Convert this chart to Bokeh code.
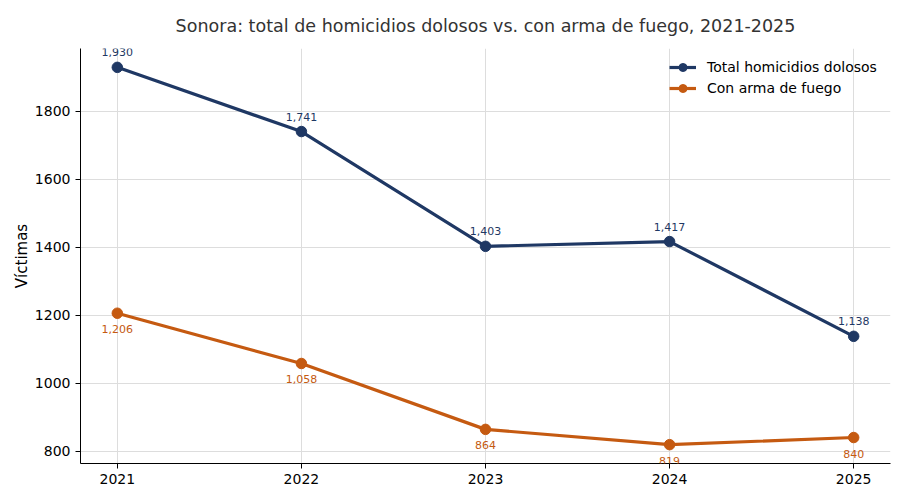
from bokeh.plotting import figure
from bokeh.models import ColumnDataSource, Range1d, FixedTicker, Legend, LegendItem, LabelSet
from bokeh.core.properties import value
from bokeh.embed import file_html
from bokeh.resources import INLINE

years = [2021, 2022, 2023, 2024, 2025]
total = [1930, 1741, 1403, 1417, 1138]
arma = [1206, 1058, 864, 819, 840]
total_labels = ["1,930", "1,741", "1,403", "1,417", "1,138"]
arma_labels = ["1,206", "1,058", "864", "819", "840"]
y_ticks = [800, 1000, 1200, 1400, 1600, 1800]

NAVY = "#1f3864"
ORANGE = "#c55a11"
FONT = "DejaVu Sans"

p = figure(width=898, height=495, output_backend="svg", toolbar_location=None,
           x_range=Range1d(2020.8, 2025.2), y_range=Range1d(763.5, 1985.5),
           min_border_left=80, min_border_right=8, min_border_top=48, min_border_bottom=32)

p.title.text = "Sonora: total de homicidios dolosos vs. con arma de fuego, 2021-2025"
p.title.align = "center"
p.title.text_font = FONT
p.title.text_font_size = "17.5px"
p.title.text_font_style = "normal"
p.title.text_color = "#333333"
p.title.offset = 0
p.title.standoff = 26

src_t = ColumnDataSource(dict(x=years, y=total, lab=total_labels))
src_a = ColumnDataSource(dict(x=years, y=arma, lab=arma_labels))

l1 = p.line("x", "y", source=src_t, line_color=NAVY, line_width=3.2)
s1 = p.scatter("x", "y", source=src_t, size=10.5, fill_color=NAVY, line_color=NAVY)
l2 = p.line("x", "y", source=src_a, line_color=ORANGE, line_width=3.2)
s2 = p.scatter("x", "y", source=src_a, size=10.5, fill_color=ORANGE, line_color=ORANGE)

lab1 = LabelSet(x="x", y="y", text="lab", source=src_t, y_offset=11, text_align="center",
                text_baseline="bottom", text_font=value(FONT), text_font_size="11px", text_color=NAVY)
lab2 = LabelSet(x="x", y="y", text="lab", source=src_a, y_offset=-12, text_align="center",
                text_baseline="top", text_font=value(FONT), text_font_size="11px", text_color=ORANGE)
p.add_layout(lab1)
p.add_layout(lab2)

legend = Legend(items=[LegendItem(label="Total homicidios dolosos", renderers=[l1, s1]),
                       LegendItem(label="Con arma de fuego", renderers=[l2, s2])],
                location=(589, 365))
legend.border_line_color = None
legend.background_fill_alpha = 0
legend.label_text_font = FONT
legend.label_text_font_size = "14px"
legend.label_text_color = "black"
legend.glyph_width = 27
legend.label_standoff = 11
legend.spacing = 1
legend.padding = 4
legend.margin = 0
p.add_layout(legend)

p.xaxis.ticker = FixedTicker(ticks=years)
p.yaxis.ticker = FixedTicker(ticks=y_ticks)
for ax in (p.xaxis[0], p.yaxis[0]):
    ax.major_label_text_font = FONT
    ax.major_label_text_font_size = "14px"
    ax.major_label_text_color = "black"
    ax.axis_line_color = "black"
    ax.major_tick_line_color = "black"
    ax.minor_tick_line_color = None
    ax.major_tick_out = 5
    ax.major_tick_in = 0
p.yaxis.axis_label = "Víctimas"
p.yaxis.axis_label_text_font = FONT
p.yaxis.axis_label_text_font_size = "15px"
p.yaxis.axis_label_text_font_style = "normal"
p.yaxis.axis_label_text_color = "black"
p.yaxis.axis_label_standoff = 1

p.xgrid.grid_line_color = "#dddddd"
p.ygrid.grid_line_color = "#dddddd"
p.outline_line_color = None

open("out.html", "w").write(file_html(p, INLINE))
